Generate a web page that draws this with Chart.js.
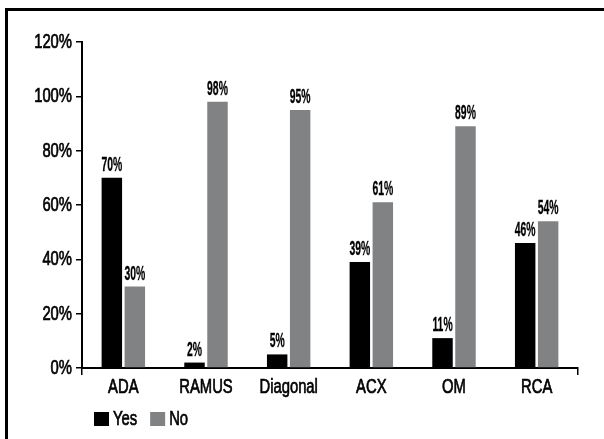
<!DOCTYPE html>
<html>
<head>
<meta charset="utf-8">
<script src="https://cdn.jsdelivr.net/npm/chart.js@4"></script>
<style>
  html, body { margin: 0; padding: 0; background: #fff; }
  #wrap { position: relative; width: 604px; height: 439px; overflow: hidden; background: #fff; }
  #wrap canvas { position: absolute; left: 0; top: 0; }
  #frame { position: absolute; left: 5px; top: 8px; right: -10px; bottom: -10px;
           border-top: 3px solid #000; border-left: 3px solid #000; pointer-events: none; }
</style>
</head>
<body>
<div id="wrap">
  <canvas id="chart" width="604" height="439"></canvas>
  <div id="frame"></div>
</div>
<script>
// Vessel categories and the share of each answer (percent)
const categories = ['ADA', 'RAMUS', 'Diagonal', 'ACX', 'OM', 'RCA'];
const yesValues = [70, 2, 5, 39, 11, 46];
const noValues = [30, 98, 95, 61, 89, 54];
const seriesNames = ['Yes', 'No'];
const seriesColors = ['#000000', '#808284'];
const yTicks = [0, 20, 40, 60, 80, 100, 120];

const FONT = '"Liberation Sans", Arial, sans-serif';
const AXIS_FONT = '20px ' + FONT;
const VALUE_FONT = 'bold 20px ' + FONT;
const TEXT_SQUEEZE = 0.74;    // horizontal squeeze of the condensed axis/legend type
const LABEL_SQUEEZE = 0.52;   // tighter squeeze for the value labels

// Draws one line of text, squeezed horizontally around its anchor point
function squeezedText(ctx, text, x, y, font, align, baseline, sx, stroke) {
  ctx.save();
  ctx.font = font;
  ctx.fillStyle = '#000';
  ctx.strokeStyle = '#000';
  ctx.textAlign = align;
  ctx.textBaseline = baseline;
  ctx.translate(x, y);
  ctx.scale(sx, 1);
  ctx.fillText(text, 0, 0);
  if (stroke) {
    ctx.lineWidth = stroke;
    ctx.strokeText(text, 0, 0);
  }
  ctx.restore();
}

// Tick labels of both axes, placed from the scales' own tick pixels
const axisText = {
  id: 'axisText',
  afterDraw(chart) {
    const { ctx } = chart;
    const xs = chart.scales.x, ys = chart.scales.y;
    ys.ticks.forEach((t, i) => {
      squeezedText(ctx, t.label, ys.right - 10, ys.getPixelForTick(i) + 0.5, AXIS_FONT, 'right', 'middle', TEXT_SQUEEZE, 0.7);
    });
    xs.ticks.forEach((t, i) => {
      squeezedText(ctx, t.label, xs.getPixelForTick(i), xs.top + 19, AXIS_FONT, 'center', 'middle', TEXT_SQUEEZE, 0.7);
    });
  }
};

// Percent labels above every bar
const valueLabels = {
  id: 'valueLabels',
  afterDatasetsDraw(chart) {
    const { ctx } = chart;
    chart.data.datasets.forEach((ds, di) => {
      chart.getDatasetMeta(di).data.forEach((bar, i) => {
        squeezedText(ctx, ds.data[i] + '%', bar.x, bar.y - 7, VALUE_FONT,
                     'center', 'alphabetic', LABEL_SQUEEZE, 0.3);
      });
    });
  }
};

// Legend row under the category labels
const legendRow = {
  id: 'legendRow',
  afterDraw(chart) {
    const { ctx } = chart;
    let x = 94;
    const y = 412;
    chart.data.datasets.forEach(ds => {
      ctx.fillStyle = ds.backgroundColor;
      ctx.fillRect(x, y, 15, 14);
      squeezedText(ctx, ds.label, x + 19, y + 7.5, AXIS_FONT, 'left', 'middle', TEXT_SQUEEZE, 0.7);
      ctx.save();
      ctx.font = AXIS_FONT;
      const w = ctx.measureText(ds.label).width * TEXT_SQUEEZE;
      ctx.restore();
      x += 19 + w + 13;
    });
  }
};

new Chart(document.getElementById('chart'), {
  type: 'bar',
  data: {
    labels: categories,
    datasets: [
      { label: seriesNames[0], data: yesValues, backgroundColor: seriesColors[0],
        categoryPercentage: 0.556, barPercentage: 0.89 },
      { label: seriesNames[1], data: noValues, backgroundColor: seriesColors[1],
        categoryPercentage: 0.556, barPercentage: 0.89 }
    ]
  },
  options: {
    responsive: false,
    animation: false,
    devicePixelRatio: 1,
    layout: { padding: { left: 0, top: 42, right: 26, bottom: 41 } },
    plugins: { legend: { display: false }, tooltip: { enabled: false } },
    scales: {
      x: {
        grid: {
          display: true, drawOnChartArea: false, drawTicks: true, tickLength: 7, offset: true,
          lineWidth: 1.5,
          color: c => (c.type === 'scale' || c.index === 0) ? '#000' : 'rgba(0,0,0,0)'
        },
        border: { display: true, color: '#000', width: 2 },
        ticks: { display: false, autoSkip: false },
        afterFit(s) { s.height = 30; s.paddingLeft = 0; s.paddingRight = 0; }
      },
      y: {
        min: 0, max: 120,
        afterBuildTicks(s) { s.ticks = yTicks.map(v => ({ value: v })); },
        ticks: { display: false, callback: v => v + '%' },
        grid: { drawOnChartArea: false, drawTicks: true, tickLength: 6, color: '#000', lineWidth: 1.5 },
        border: { display: true, color: '#000', width: 2 },
        afterFit(s) { s.width = 82; s.paddingTop = 0; s.paddingBottom = 0; }
      }
    }
  },
  plugins: [valueLabels, axisText, legendRow]
});
</script>
</body>
</html>
